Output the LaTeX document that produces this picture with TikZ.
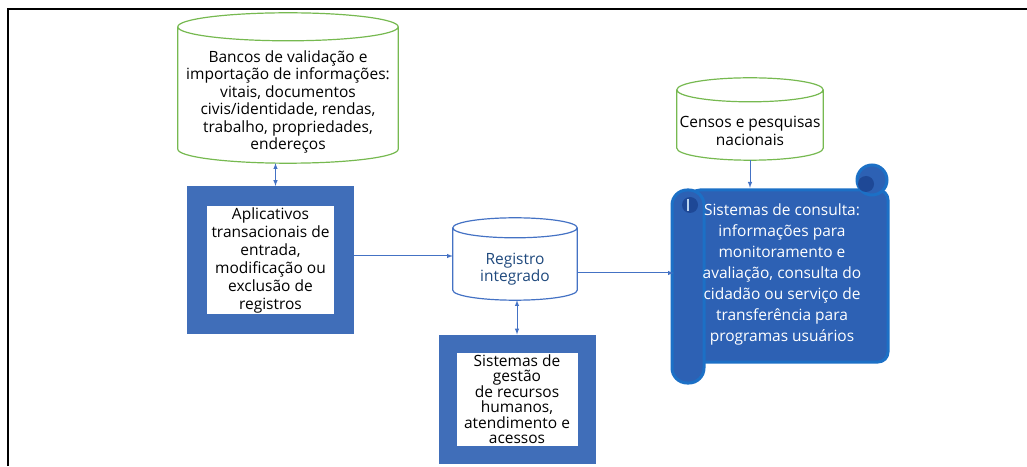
\documentclass[tikz,border=0pt]{standalone}
\usepackage{fontspec}
\setmainfont{Open Sans}
\usetikzlibrary{arrows,calc}
\definecolor{verde}{RGB}{118,185,80}
\definecolor{azul}{RGB}{64,110,185}
\definecolor{linha}{RGB}{68,114,196}
\definecolor{texto}{RGB}{31,73,125}
\definecolor{rolo}{RGB}{45,97,180}
\definecolor{borda}{RGB}{28,112,198}
\definecolor{escuro}{RGB}{30,72,150}

% contorno de cilindro em volta do corpo de um no: #1 no, #2 raio, #3 cor
\newcommand{\cilindro}[3]{%
  \draw[#3,line width=1.2pt] let \p1=(#1.north west), \p2=(#1.south east) in
    (\x1,\y1+#2pt) -- (\x1,\y2+#2pt) arc (180:360:{(\x2-\x1)/2} and #2pt)
    -- (\x2,\y1+#2pt) arc (0:180:{(\x2-\x1)/2} and #2pt) -- cycle
    (\x1,\y1+#2pt) arc (180:360:{(\x2-\x1)/2} and #2pt);
}

\begin{document}
\begin{tikzpicture}[>=latex,x=1pt,y=1pt,
  every node/.style={font=\fontsize{15.5}{17.5}\selectfont},
  corpo/.style={align=center,inner sep=0pt},
  caixa/.style={draw=azul,fill=white,align=center,inner sep=0pt},
  seta/.style={color=linha,line width=1pt}]

\useasboundingbox (0,0) rectangle (1027,466);

% moldura
\draw[line width=1.6pt] (8,0) -- (8,457) -- (1027,457);

\node[corpo,minimum width=220,minimum height=122] (bancos) at (288,364)
	{Bancos de validação e\\importação de informações:\\vitais, documentos\\civis/identidade, rendas,\\trabalho, propriedades,\\endereços};
\cilindro{bancos}{14}{verde}

\node[corpo,text=texto,minimum width=124,minimum height=62] (registro) at (515,197)
	{Registro\\integrado};
\cilindro{registro}{10}{linha}

\node[corpo,minimum width=146,minimum height=58] (censos) at (750,335)
	{Censos e pesquisas\\nacionais};
\cilindro{censos}{12}{verde}

\node[caixa,line width=20pt,minimum width=147,minimum height=128,
	font=\fontsize{15.5}{18}\selectfont] (aplicativos) at (270.5,206)
	{Aplicativos\\transacionais de\\entrada,\\modificação ou\\exclusão de\\registros};
\node[caixa,line width=18pt,minimum width=139,minimum height=111,
	font=\fontsize{15.5}{15.5}\selectfont] (sistemas) at (517,67)
	{Sistemas de\\gestão\\de recursos\\humanos,\\atendimento e\\acessos};

% rolo (pergaminho)
\begin{scope}[line width=3pt,draw=borda,fill=rolo]
\filldraw[rounded corners=10pt] (690,276) rectangle (888,104);
\filldraw (872,286) circle (15);
\fill[escuro] (866,282) circle (8);
\filldraw[rounded corners=15pt] (672,276) rectangle (704,83);
\fill[escuro] (690,261) circle (8);
\draw[line width=1.5pt,color=white!70!borda] (688,267) -- (688,255);
\end{scope}
\node[text=white,align=center,minimum width=216,minimum height=172,
	font=\fontsize{15.5}{21}\selectfont] (consulta) at (782,192)
	{Sistemas de consulta:\\informações para\\monitoramento e\\avaliação, consulta do\\cidadão ou serviço de\\transferência para\\programas usuários};

\draw[seta,<->] ([xshift=5pt]aplicativos.north) -- ([xshift=5pt]aplicativos.north |- bancos.south);
\draw[seta,->] ([yshift=4pt]aplicativos.east) -- ([yshift=4pt]aplicativos.east -| registro.west);
\draw[seta,<->] (sistemas.north) -- (sistemas.north |- registro.south);
\draw[seta,->] ([yshift=-4pt]registro.east) -- ([yshift=-4pt]registro.east -| consulta.west);
\draw[seta,->] (censos.south) -- (censos.south |- consulta.north);

\end{tikzpicture}
\end{document}
